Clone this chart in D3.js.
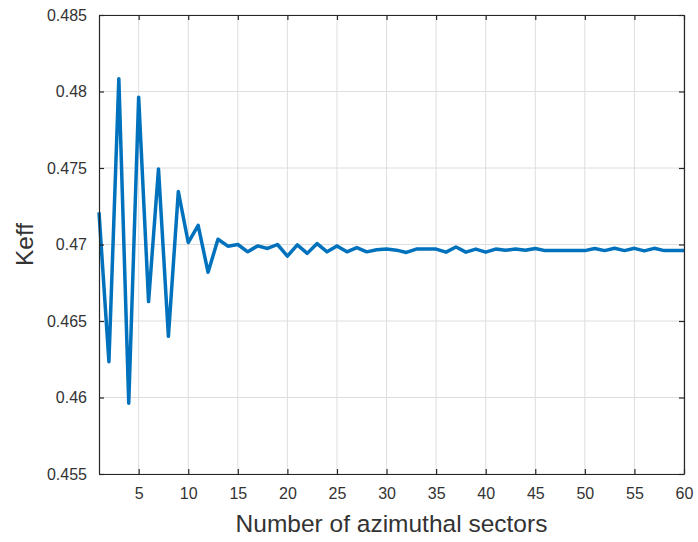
<!DOCTYPE html>
<html>
<head>
<meta charset="utf-8">
<script src="https://cdn.jsdelivr.net/npm/d3@7"></script>
<style>
  html, body { margin: 0; padding: 0; background: #fff; }
  svg { display: block; }
  text { font-family: "Liberation Sans", Arial, sans-serif; }
</style>
</head>
<body>
<svg id="chart" width="698" height="542"></svg>
<script>
// ---- data ----
const sectors = d3.range(1, 61);
const keff = [
  0.4721, 0.46234, 0.48084, 0.45963, 0.47963, 0.46627, 0.47494, 0.4640, 0.47346, 0.47013,
  0.47125, 0.46818, 0.47034, 0.46989, 0.47000, 0.46952, 0.46991, 0.46974, 0.47000, 0.46924,
  0.46997, 0.46942, 0.47006, 0.46952, 0.46991, 0.46952, 0.46980, 0.46952, 0.46966, 0.46970,
  0.46963, 0.46948, 0.46970, 0.46970, 0.46970, 0.46950, 0.46984, 0.46950, 0.46970, 0.46950,
  0.46970, 0.46963, 0.46970, 0.46962, 0.46974, 0.46960, 0.46960, 0.46960, 0.46960, 0.46960,
  0.46974, 0.46960, 0.46975, 0.46960, 0.46975, 0.46958, 0.46975, 0.46960, 0.46960, 0.46960
];
const xTicks = [5, 10, 15, 20, 25, 30, 35, 40, 45, 50, 55, 60];
const yTicks = [0.455, 0.46, 0.465, 0.47, 0.475, 0.48, 0.485];
const yTickLabels = ["0.455", "0.46", "0.465", "0.47", "0.475", "0.48", "0.485"];
const xLabel = "Number of azimuthal sectors";
const yLabel = "Keff";

// ---- layout ----
const L = 99, R = 684, T = 15, B = 474;
const svg = d3.select("#chart");
const x = d3.scaleLinear().domain([1, 60]).range([L, R]);
const y = d3.scaleLinear().domain([0.455, 0.485]).range([B, T]);
const axisCol = "#262626";
const gridCol = "#dedede";

// grid
const g = svg.append("g");
g.selectAll("line.gx").data(xTicks).join("line")
  .attr("x1", d => x(d)).attr("x2", d => x(d))
  .attr("y1", T).attr("y2", B)
  .attr("stroke", gridCol).attr("stroke-width", 1);
g.selectAll("line.gy").data(yTicks).join("line")
  .attr("x1", L).attr("x2", R)
  .attr("y1", d => y(d)).attr("y2", d => y(d))
  .attr("stroke", gridCol).attr("stroke-width", 1);

// line
const line = d3.line().x((d, i) => x(sectors[i])).y(d => y(d));
svg.append("path").datum(keff)
  .attr("d", line)
  .attr("fill", "none")
  .attr("stroke", "#0072BD")
  .attr("stroke-width", 3.5)
  .attr("stroke-linejoin", "round");

// axes (ticks inward, box)
const tl = 5;
const xb = svg.append("g").attr("transform", `translate(0,${B})`)
  .call(d3.axisBottom(x).tickValues(xTicks).tickSizeInner(-tl).tickSizeOuter(0).tickPadding(14));
const xt = svg.append("g").attr("transform", `translate(0,${T})`)
  .call(d3.axisTop(x).tickValues(xTicks).tickSizeInner(-tl).tickSizeOuter(0).tickFormat(""));
const yl = svg.append("g").attr("transform", `translate(${L},0)`)
  .call(d3.axisLeft(y).tickValues(yTicks).tickSizeInner(-tl).tickSizeOuter(0).tickPadding(12)
    .tickFormat((d, i) => yTickLabels[i]));
const yr = svg.append("g").attr("transform", `translate(${R},0)`)
  .call(d3.axisRight(y).tickValues(yTicks).tickSizeInner(-tl).tickSizeOuter(0).tickFormat(""));

[xb, xt, yl, yr].forEach(a => {
  a.select(".domain").attr("stroke", axisCol).attr("stroke-width", 1.2);
  a.selectAll(".tick line").attr("stroke", axisCol).attr("stroke-width", 1.2);
  a.selectAll(".tick text").attr("fill", "#333").attr("font-size", 16)
    .attr("font-family", "'Liberation Sans', Arial, sans-serif");
});

// labels
svg.append("text")
  .attr("x", (L + R) / 2).attr("y", 532)
  .attr("text-anchor", "middle")
  .attr("font-size", 24.5).attr("fill", "#333")
  .text(xLabel);
svg.append("text")
  .attr("transform", `translate(33,${(T + B) / 2}) rotate(-90)`)
  .attr("text-anchor", "middle")
  .attr("font-size", 24.5).attr("fill", "#333")
  .text(yLabel);
</script>
</body>
</html>
